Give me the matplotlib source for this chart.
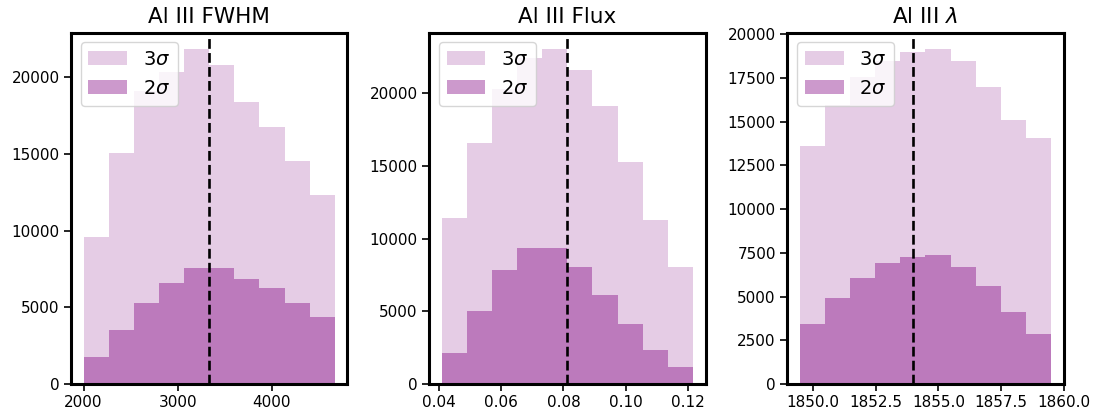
import numpy as np
import matplotlib.pyplot as plt

# histogram bin edges for each parameter
fwhm_edges = np.linspace(2000, 4670, 11)
flux_edges = np.linspace(0.0408, 0.1217, 11)
wave_edges = np.linspace(1849.47, 1859.5, 11)

# counts per bin, 3 sigma and 2 sigma samples
fwhm_3sig = [9590, 15100, 19130, 20350, 21840, 20800, 18370, 16770, 14580, 12300]
fwhm_2sig = [1780, 3510, 5310, 6620, 7590, 7590, 6830, 6250, 5310, 4340]
flux_3sig = [11450, 16570, 20320, 22450, 23020, 21600, 19110, 15270, 11270, 8020]
flux_2sig = [2100, 5050, 7860, 9350, 9350, 8020, 6100, 4110, 2330, 1140]
wave_3sig = [13630, 15970, 17570, 18480, 19010, 19140, 18480, 16960, 15110, 14050]
wave_2sig = [3420, 4940, 6080, 6920, 7260, 7400, 6670, 5610, 4120, 2830]

# best-fit values
fwhm_best = 3336
flux_best = 0.0811
wave_best = 1853.98

titles = ["Al III FWHM", "Al III Flux", r"Al III $\lambda$"]
xticks = [
    [2000, 3000, 4000],
    [0.04, 0.06, 0.08, 0.10, 0.12],
    [1850.0, 1852.5, 1855.0, 1857.5, 1860.0],
]
yticks = [
    [0, 5000, 10000, 15000, 20000],
    [0, 5000, 10000, 15000, 20000],
    [0, 2500, 5000, 7500, 10000, 12500, 15000, 17500, 20000],
]

panels = [
    (fwhm_edges, fwhm_3sig, fwhm_2sig, fwhm_best),
    (flux_edges, flux_3sig, flux_2sig, flux_best),
    (wave_edges, wave_3sig, wave_2sig, wave_best),
]

fig, axes = plt.subplots(1, 3, figsize=(11, 4.12), dpi=100)
fig.subplots_adjust(left=0.0645, right=0.967, bottom=0.068, top=0.921, wspace=0.295)

for i, (ax, title, (edges, c3, c2, best)) in enumerate(zip(axes, titles, panels)):
    mids = 0.5 * (edges[:-1] + edges[1:])
    ax.hist(mids, bins=edges, weights=c3, color="purple", alpha=0.2, label=r"$3\sigma$")
    ax.hist(mids, bins=edges, weights=c2, color="purple", alpha=0.4, label=r"$2\sigma$")
    ax.axvline(best, color="k", ls="--", lw=1.9)
    ax.set_xticks(xticks[i])
    ax.set_yticks(yticks[i])
    ax.set_title(title, fontsize=15.5, pad=7)
    ax.legend(loc="upper left", fontsize=14)
    ax.tick_params(labelsize=11, length=4.7, width=1.2)
    for s in ax.spines.values():
        s.set_linewidth(2.2)

plt.savefig("out.png", dpi=100)
